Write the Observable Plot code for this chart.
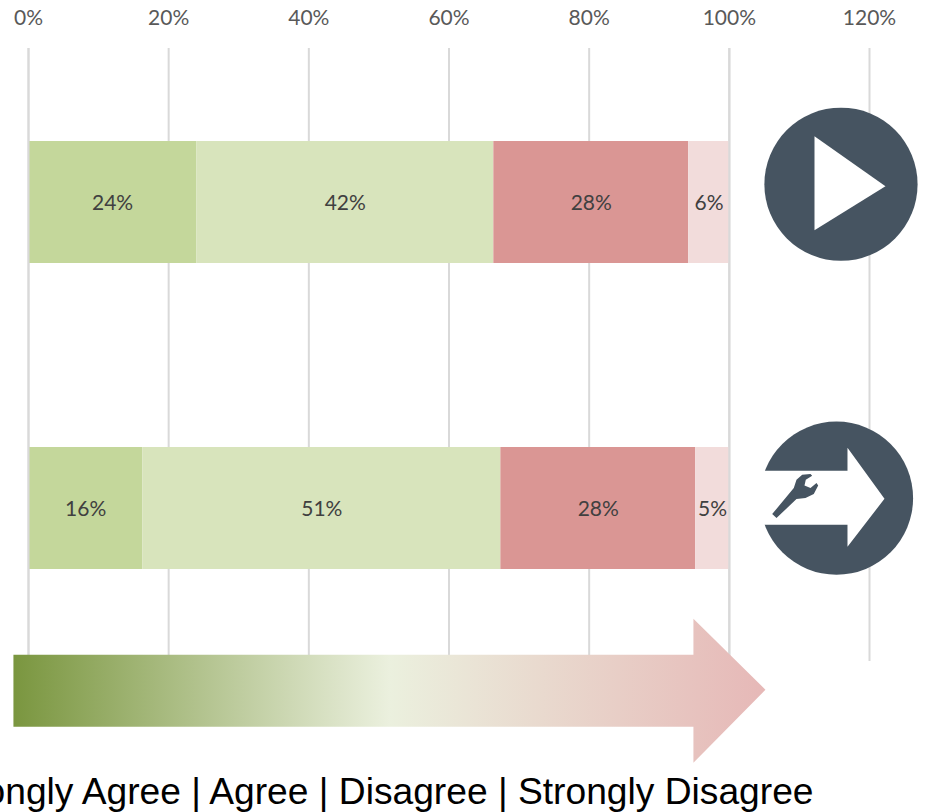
<!DOCTYPE html>
<html>
<head>
<meta charset="utf-8">
<style>
html,body{margin:0;padding:0;background:#fff;overflow:hidden}
svg{display:block;overflow:hidden}
</style>
<script src="https://cdn.jsdelivr.net/npm/d3@7"></script>
<script src="https://cdn.jsdelivr.net/npm/@observablehq/plot@0.6"></script>
</head>
<body>
<div id="chart"></div>
<script>
const rows = ["Play", "Maintain"];
const levels = ["Strongly Agree", "Agree", "Disagree", "Strongly Disagree"];
const playValues = [24, 42.4, 27.8, 5.8];
const maintainValues = [16.3, 51.1, 27.8, 4.8];
const levelColors = ["#c4d79b", "#d8e4bc", "#da9694", "#f2dcdb"];
const xTicks = [0, 20, 40, 60, 80, 100, 120];
const legendText = "Strongly Agree | Agree | Disagree | Strongly Disagree";

const table = [playValues, maintainValues].flatMap((vals, r) =>
  vals.map((value, i) => ({row: rows[r], level: levels[i], value})));

const dark = "#465461";

function polySymbol(points) {
  return {draw(ctx) {
    points.forEach(([a, b], i) => i ? ctx.lineTo(a, b) : ctx.moveTo(a, b));
    ctx.closePath();
  }};
}
const circleSymbol = {draw(ctx) { ctx.moveTo(76.6, 0); ctx.arc(0, 0, 76.6, 0, 2 * Math.PI); ctx.closePath(); }};
const playTriangle = polySymbol([[-26.5, -48], [-26.5, 46], [44.5, 2]]);
const serviceArrow = polySymbol([[-81, -27.4], [11, -27.4], [11, -50.4], [48, 0.6], [11, 48.6], [11, 26.6], [-81, 26.6]]);
const wrench = polySymbol([[-64.3, 15.9], [-60, 19.9], [-40, 0.9], [-31, -0.1], [-22.7, -4.1], [-18.3, -12.7],
  [-20, -15.1], [-26, -10.1], [-32, -12.7], [-30.7, -18.4], [-24.3, -22.4], [-26, -24.1], [-34.3, -23.4],
  [-40, -18.4], [-42.7, -10.1]]);
const bigArrow = polySymbol([[-376, -36], [304, -36], [304, -72], [376, -1], [304, 72], [304, 36], [-376, 36]]);

const gradientDefs = () => {
  const svg = d3.create("svg:defs");
  const g = svg.append("linearGradient").attr("id", "scaleGrad").attr("x1", 0).attr("x2", 1).attr("y1", 0).attr("y2", 0);
  [[0, "#7a963f"], [0.5, "#ebf0de"], [1, "#e6b8b7"]].forEach(([o, c]) =>
    g.append("stop").attr("offset", o).attr("stop-color", c));
  return svg.node();
};

const chart = Plot.plot({
  width: 926,
  height: 812,
  marginLeft: 28,
  marginRight: 57,
  marginTop: 48,
  marginBottom: 151,
  style: {background: "#fff"},
  x: {domain: [0, 120]},
  y: {domain: rows, range: [49, 662], paddingInner: 0.6, paddingOuter: 0.3, axis: null},
  color: {domain: levels, range: levelColors},
  marks: [
    gradientDefs,
    Plot.ruleX(xTicks, {stroke: "#d9d9d9", strokeWidth: 2}),
    Plot.axisX({
      anchor: "top", ticks: xTicks, tickSize: 0, tickPadding: 24, label: null,
      tickFormat: d => d + "%", fontSize: 21, fontFamily: "Lato", fill: "#595959", color: "#595959"
    }),
    Plot.barX(table, Plot.stackX({x: "value", y: "row", fill: "level", order: null})),
    Plot.ruleX([0, 100], {stroke: "#d9d9d9", strokeWidth: 2}),
    Plot.text(table, Plot.stackX({
      x: "value", y: "row", order: null, text: d => d3.format(".0f")(d.value) + "%",
      fontSize: 21, fontFamily: "Lato", fill: "#404040", dy: 1
    })),
    // row icons
    Plot.dot([rows[0]], {x: () => 115.93, y: d => d, dy: -18.25, symbol: circleSymbol, fill: dark, stroke: "none"}),
    Plot.dot([rows[0]], {x: () => 115.93, y: d => d, dy: -18.25, symbol: playTriangle, fill: "#fff", stroke: "none"}),
    Plot.dot([rows[1]], {x: () => 115.29, y: d => d, dy: -10.35, symbol: circleSymbol, fill: dark, stroke: "none"}),
    Plot.dot([rows[1]], {x: () => 115.29, y: d => d, dy: -10.35, symbol: serviceArrow, fill: "#fff", stroke: "none"}),
    Plot.dot([rows[1]], {x: () => 115.29, y: d => d, dy: -10.35, symbol: wrench, fill: dark, stroke: "none"}),
    // gradient scale arrow
    Plot.dot([rows[1]], {x: () => 51.5, y: d => d, dy: 182.25, symbol: bigArrow, fill: "url(#scaleGrad)", stroke: "none"}),
    Plot.text([legendText], {
      frameAnchor: "bottom-right", dx: 813 - 869, dy: 131, text: d => d, textAnchor: "end",
      fontSize: 37.2, fontFamily: "Liberation Sans", fill: "#000", lineAnchor: "middle"
    })
  ]
});
document.getElementById("chart").append(chart);
</script>
</body>
</html>
